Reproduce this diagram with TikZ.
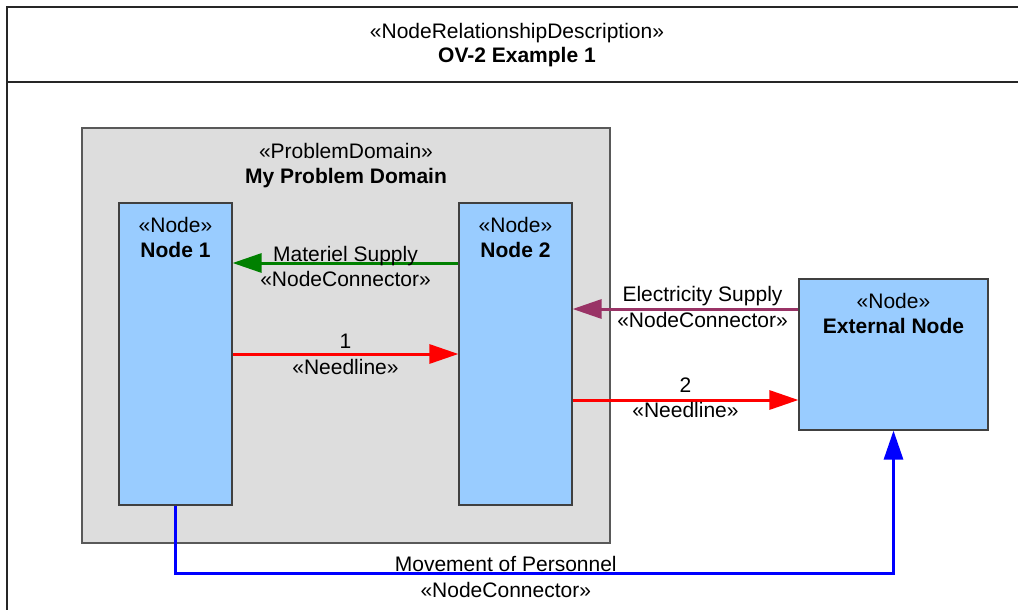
\documentclass[tikz,border=0pt]{standalone}
\usepackage{fontspec}
\setmainfont{Liberation Sans}
\usetikzlibrary{arrows.meta,positioning}

\definecolor{nodeblue}{HTML}{99CCFF}
\definecolor{domaingray}{HTML}{DDDDDD}
\definecolor{plum}{HTML}{993366}
\definecolor{leafgreen}{HTML}{008000}

\tikzset{
  box/.style={draw=black!75, line width=1.2pt, fill=nodeblue, inner sep=0pt},
  domainbox/.style={draw=black!65, line width=1.2pt, fill=domaingray, inner sep=0pt},
  lbl/.style={inner sep=0pt, text height=15pt, text depth=0pt},
  lblbold/.style={lbl, font=\fontsize{21}{25}\selectfont\bfseries},
  conn/.style={line width=3pt, -{Triangle[length=29pt,width=19pt]}},
  frame/.style={draw=black!85, line width=1.6pt},
}

\begin{document}
\begin{tikzpicture}[x=1pt, y=-1pt, font=\fontsize{21}{25}\selectfont]
    \useasboundingbox (0,0) rectangle (1018,610);

    % frame and title
    \draw[frame] (1018,7) -- (7,7) -- (7,610);
    \draw[frame] (7,82) -- (1018,82);
    \node[lbl]     (title-s) at (517,31) {«NodeRelationshipDescription»};
    \node[lblbold] (title)   at (517,55) {OV-2 Example 1};

    % boxes
    \node[domainbox, minimum width=528pt, minimum height=415pt] (domain) at (346,335.5) {};
    \node[box, minimum width=113pt, minimum height=302pt] (node1) at (175.5,354) {};
    \node[box, minimum width=113pt, minimum height=302pt] (node2) at (515.5,354) {};
    \node[box, minimum width=189pt, minimum height=151pt] (ext) at (893.5,354.5) {};

    \node[lbl]     (domain-s) at ([yshift=-24pt]domain.north) {«ProblemDomain»};
    \node[lblbold] (domain-t) at ([yshift=-49pt]domain.north) {My Problem Domain};
    \node[lbl]     (node1-s) at ([yshift=-23pt]node1.north) {«Node»};
    \node[lblbold] (node1-t) at ([yshift=-48pt]node1.north) {Node 1};
    \node[lbl]     (node2-s) at ([yshift=-23pt]node2.north) {«Node»};
    \node[lblbold] (node2-t) at ([yshift=-48pt]node2.north) {Node 2};
    \node[lbl]     (ext-s) at ([yshift=-23pt]ext.north) {«Node»};
    \node[lblbold] (ext-t) at ([yshift=-48pt]ext.north) {External Node};

    % connectors
    \draw[conn, leafgreen] ([yshift=91pt]node2.west) -- ([yshift=91pt]node2.west -| node1.east)
        node[lbl, black, midway, yshift=9pt] {Materiel Supply}
        node[lbl, black, midway, yshift=-16pt] {«NodeConnector»};
    \draw[conn, red] (node1.east) -- (node2.west)
        node[lbl, black, midway, yshift=13pt] {1}
        node[lbl, black, midway, yshift=-13pt] {«Needline»};
    \draw[conn, plum] ([yshift=45.5pt]ext.west) -- ([yshift=45.5pt]ext.west -| node2.east)
        node[lbl, black, midway, xshift=17pt, yshift=15pt] {Electricity Supply}
        node[lbl, black, midway, xshift=17pt, yshift=-11pt] {«NodeConnector»};
    \draw[conn, red] ([yshift=-46pt]node2.east) -- ([yshift=-46pt]node2.east -| ext.west)
        node[lbl, black, midway, yshift=15pt] {2}
        node[lbl, black, midway, yshift=-10pt] {«Needline»};
    \draw[conn, blue] (node1.south) -- ++(0,68) -| (ext.south)
        node[lbl, black, pos=0.23, yshift=10pt] {Movement of Personnel}
        node[lbl, black, pos=0.23, yshift=-16pt] {«NodeConnector»};
\end{tikzpicture}
\end{document}
